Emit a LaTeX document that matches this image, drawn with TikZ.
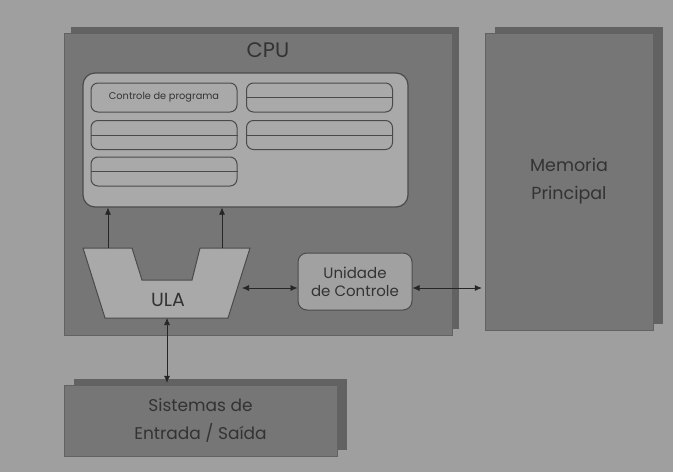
\documentclass[tikz,border=0pt]{standalone}
\usepackage{fontspec}
\setmainfont{Poppins}
\usepackage{tikz}
\usetikzlibrary{positioning, arrows.meta, shadows}

\definecolor{fundo}{HTML}{9F9F9F}
\definecolor{caixa}{HTML}{767676}
\definecolor{sombra}{HTML}{626262}
\definecolor{claro}{HTML}{A9A9A9}
\definecolor{borda}{HTML}{4A4A4A}
\definecolor{texto}{HTML}{333333}

\tikzset{
	bloco/.style={rectangle, draw=sombra, fill=caixa, text=texto, align=center,
		drop shadow={shadow xshift=#1, shadow yshift=6pt, fill=sombra, opacity=1}},
	bloco/.default=7pt,
	registro/.style={rectangle, rounded corners=7pt, draw=borda, line width=1pt,
		fill=claro, minimum width=146pt, minimum height=29pt, inner sep=0pt, text=texto},
	seta/.style={{Latex[length=7pt,width=6pt]}-{Latex[length=7pt,width=6pt]}, draw=black!85, line width=0.7pt},
	setacima/.style={-{Latex[length=7pt,width=6pt]}, draw=black!85, line width=0.7pt}
}

\begin{document}
\begin{tikzpicture}[x=1pt, y=-1pt]
		\fill[fundo] (0,0) rectangle (673,472);
		\useasboundingbox (0,0) rectangle (673,472);

		% blocos principais
		\node[bloco, minimum width=388pt, minimum height=302pt] (cpu) at (258,184) {};
		\node[text=texto, font=\fontsize{21}{24}\selectfont] (cputxt) at (268,50) {CPU};
		\node[bloco=10pt, minimum width=168pt, minimum height=297pt,
			font=\fontsize{17.5}{28}\selectfont] (mem) at (569,181.5) {Memoria\\Principal};
		\node[bloco=10pt, minimum width=273pt, minimum height=71pt,
			font=\fontsize{17}{28}\selectfont] (es) at (200.5,420.5) {Sistemas de\\Entrada / Saída};

		% registradores
		\node[rectangle, rounded corners=12pt, draw=borda, line width=1.2pt, fill=claro,
			minimum width=325pt, minimum height=134pt] (regs) at (245.5,140) {};
		\node[registro, font=\fontsize{9.8}{12}\selectfont] (r1) at (164,97.5) {Controle de programa};
		\node[registro] (r2) at (319.5,97.5) {};
		\node[registro] (r3) at (164,135) {};
		\node[registro] (r4) at (319.5,135) {};
		\node[registro] (r5) at (164,171.5) {};
		\foreach \r in {r2,r3,r4,r5}
			\draw[borda, line width=1pt] (\r.west) -- (\r.east);

		% ULA
		\draw[borda, line width=1pt, fill=claro] (83,248) -- (132,248) -- (142,280) -- (192,280)
			-- (200,248) -- (250,248) -- (228,318) -- (105,318) -- cycle;
		\node[text=texto, font=\fontsize{19}{22}\selectfont] (ula) at (168,300) {ULA};
		\coordinate (ulaE) at (108,248);
		\coordinate (ulaD) at (222,248);
		\coordinate (ulaR) at (242,288);
		\coordinate (ulaB) at (167,318);

		% unidade de controle
		\node[rectangle, rounded corners=9pt, draw=borda, line width=1pt, fill=claro!95!black,
			minimum width=114pt, minimum height=57pt, text=texto, align=center,
			font=\fontsize{15}{18}\selectfont] (uc) at (355,281.5) {Unidade\\de Controle};

		% conexoes
		\draw[setacima] (ulaE) -- (ulaE |- regs.south);
		\draw[setacima] (ulaD) -- (ulaD |- regs.south);
		\draw[seta] (ulaR) -- (ulaR -| uc.west);
		\draw[seta] (uc.east |- ulaR) -- ([xshift=-3pt]ulaR -| mem.west);
		\draw[seta] (ulaB) -- ([yshift=2pt]ulaB |- es.north);
	\end{tikzpicture}
\end{document}
